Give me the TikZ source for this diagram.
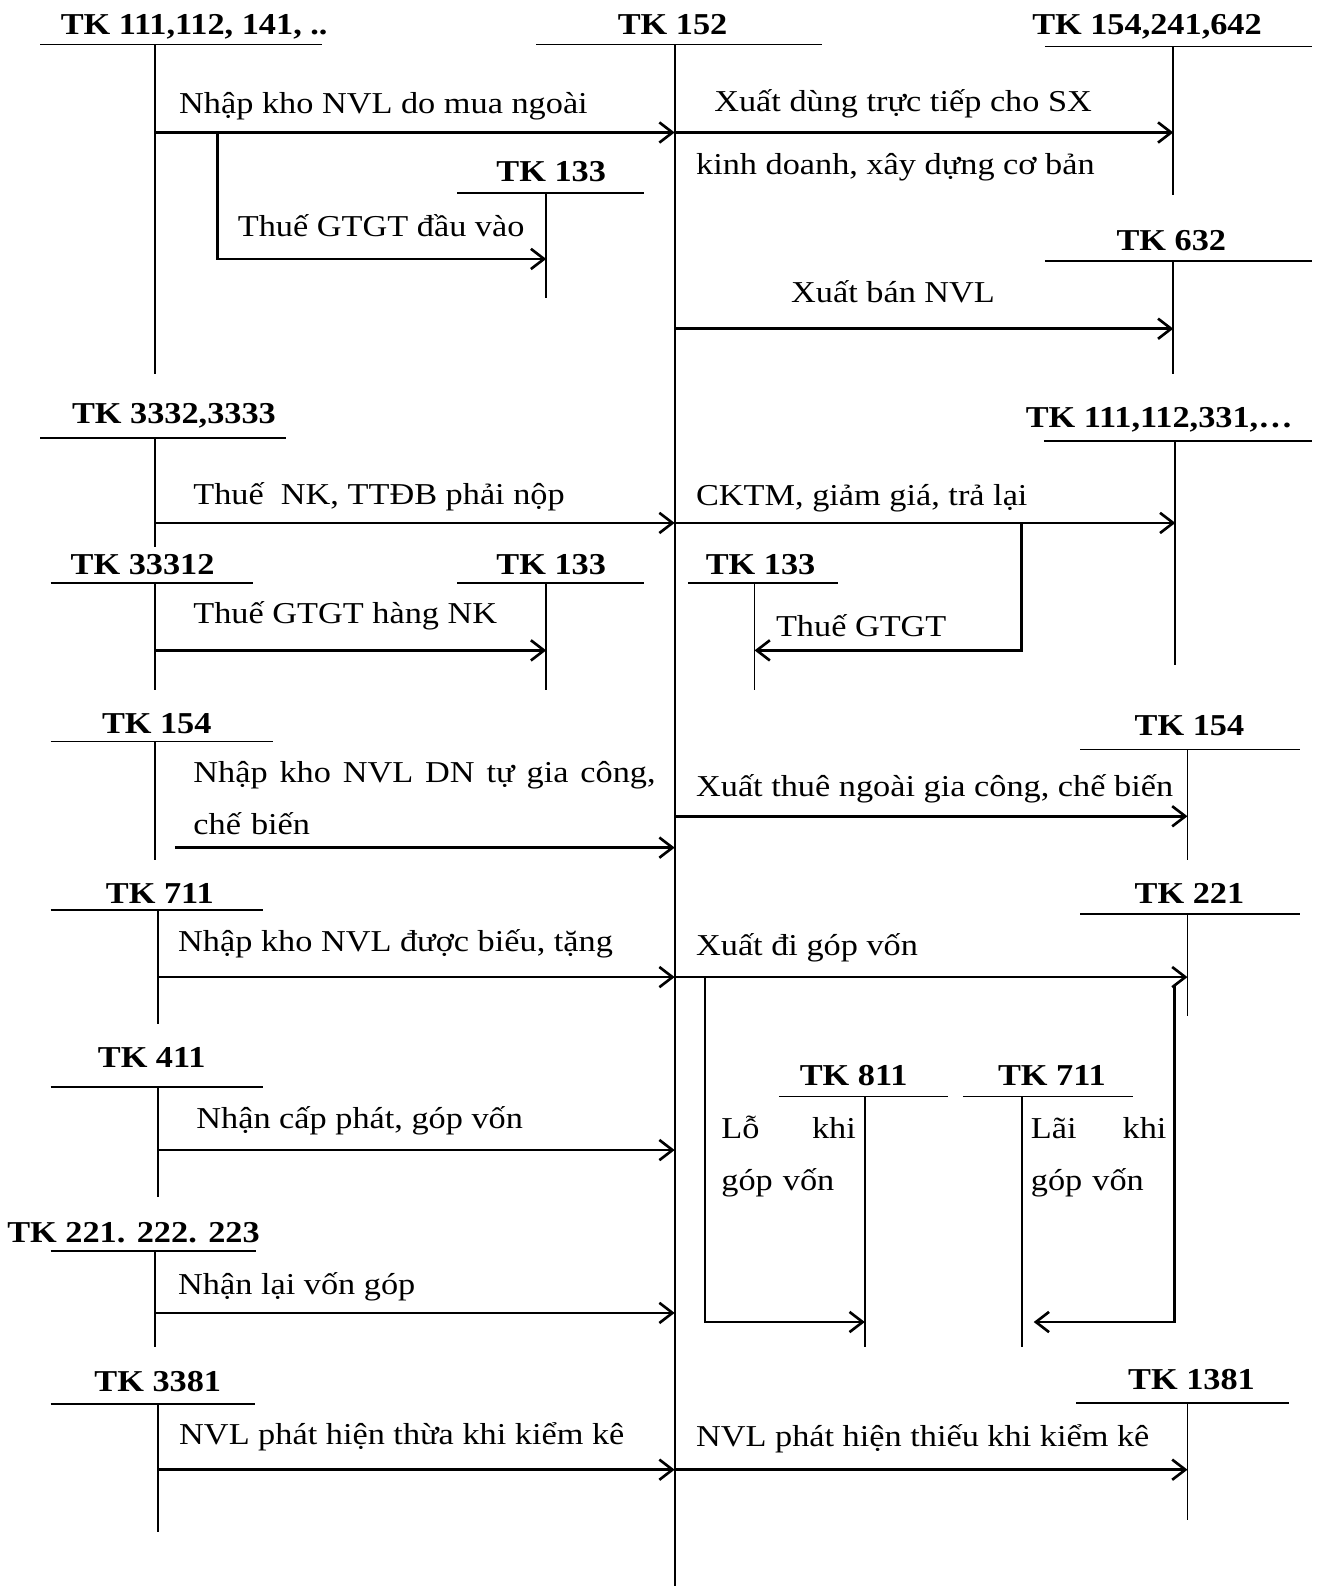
\documentclass[tikz,border=0pt]{standalone}
\usepackage{fontspec}
\setmainfont{Liberation Serif}[FakeStretch=1.13]
\usetikzlibrary{arrows.meta}

\begin{document}
\begin{tikzpicture}[x=1pt, y=-1pt,
    tk/.style = {font=\fontsize{30}{36}\selectfont\bfseries, inner sep=0pt, anchor=base},
    nd/.style = {font=\fontsize{30}{51}\selectfont, inner sep=0pt, anchor=base west, align=left},
    tline/.style = {line width=1.8pt},
    flow/.style = {line width=2.6pt, -{Straight Barb[length=13pt, width=20pt]}}]
    \useasboundingbox (0,0) rectangle (1302,1568);

    \node[tk] (k111a) at (192,34) {TK 111,112, 141, ..};
    \node[tk] (k152) at (665,34) {TK 152};
    \node[tk] (k154a) at (1134,34) {TK 154,241,642};
    \node[tk] (k133a) at (545,179) {TK 133};
    \node[tk] (k632) at (1158,248) {TK 632};
    \node[tk] (k3332) at (172,419) {TK 3332,3333};
    \node[tk] (k111b) at (1146,423) {TK 111,112,331,…};
    \node[tk] (k33312) at (141,568) {TK 33312};
    \node[tk] (k133c) at (545,568) {TK 133};
    \node[tk] (k133b) at (752,568) {TK 133};
    \node[tk] (k154b) at (155,725) {TK 154};
    \node[tk] (k154c) at (1176,727) {TK 154};
    \node[tk] (k711a) at (158,893) {TK 711};
    \node[tk] (k221a) at (1176,893) {TK 221};
    \node[tk] (k411) at (150,1055) {TK 411};
    \node[tk] (k811) at (844,1073) {TK 811};
    \node[tk] (k711b) at (1040,1073) {TK 711};
    \node[tk] (k221b) at (132,1228) {TK 221. 222. 223};
    \node[tk] (k3381) at (156,1376) {TK 3381};
    \node[tk] (k1381) at (1178,1374) {TK 1381};

    \draw[tline] (40,44) -- (318,44) (153,44) coordinate (v111a) -- (153,370);
    \draw[tline] (530,44) -- (813,44) (667,44) coordinate (v152) -- (667,1568);
    \draw[tline] (1033,46) -- (1297,46) (1160,46) coordinate (v154a) -- (1160,193);
    \draw[tline] (452,191) -- (637,191) (540,191) coordinate (v133a) -- (540,295);
    \draw[tline] (1033,258) -- (1297,258) (1160,258) coordinate (v632) -- (1160,370);
    \draw[tline] (40,433) -- (283,433) (153,433) coordinate (v3332) -- (153,541);
    \draw[tline] (1032,436) -- (1297,436) (1162,436) coordinate (v111b) -- (1162,657);
    \draw[tline] (50,576) -- (250,576) (153,576) coordinate (v33312) -- (153,682);
    \draw[tline] (452,576) -- (637,576) (540,576) coordinate (v133c) -- (540,682);
    \draw[tline] (680,576) -- (828,576) (746,576) coordinate (v133b) -- (746,682);
    \draw[tline] (50,733) -- (270,733) (153,733) coordinate (v154b) -- (153,850);
    \draw[tline] (1068,741) -- (1285,741) (1174,741) coordinate (v154c) -- (1174,850);
    \draw[tline] (50,900) -- (260,900) (156,900) coordinate (v711a) -- (156,1012);
    \draw[tline] (1068,904) -- (1285,904) (1174,904) coordinate (v221a) -- (1174,1004);
    \draw[tline] (50,1075) -- (260,1075) (156,1075) coordinate (v411) -- (156,1183);
    \draw[tline] (770,1084) -- (937,1084) (855,1084) coordinate (v811) -- (855,1332);
    \draw[tline] (952,1084) -- (1120,1084) (1010,1084) coordinate (v711b) -- (1010,1332);
    \draw[tline] (50,1237) -- (253,1237) (153,1237) coordinate (v221b) -- (153,1332);
    \draw[tline] (50,1388) -- (252,1388) (156,1388) coordinate (v3381) -- (156,1515);
    \draw[tline] (1064,1387) -- (1274,1387) (1174,1387) coordinate (v1381) -- (1174,1503);

    \coordinate (r1) at (0,131);
    \coordinate (r2) at (0,256);
    \coordinate (r3) at (0,325);
    \coordinate (r4) at (0,517);
    \coordinate (r5) at (0,643);
    \coordinate (r6) at (0,807);
    \coordinate (r7) at (0,838);
    \coordinate (r8) at (0,966);
    \coordinate (r9) at (0,975);
    \coordinate (r10) at (0,1137);
    \coordinate (r11) at (0,1298);
    \coordinate (r12) at (0,1307);
    \coordinate (r13) at (0,1453);
    \coordinate (b1) at (215,0);
    \coordinate (b2) at (1010,0);
    \coordinate (b3) at (697,0);
    \coordinate (b4) at (1161,0);
    \coordinate (s154) at (173,0);
    \coordinate (e711) at (1022,0);

    \draw[flow] (v111a |- r1) -- (v152 |- r1);
    \draw[flow] (v152 |- r1) -- (v154a |- r1);
    \draw[flow] (b1 |- r1) -- (b1 |- r2) -- (v133a |- r2);
    \draw[flow] (v152 |- r3) -- (v632 |- r3);
    \draw[flow] (v3332 |- r4) -- (v152 |- r4);
    \draw[flow] (v152 |- r4) -- (v111b |- r4);
    \draw[flow] (b2 |- r4) -- (b2 |- r5) -- (v133b |- r5);
    \draw[flow] (v33312 |- r5) -- (v133c |- r5);
    \draw[flow] (s154 |- r7) -- (v152 |- r7);
    \draw[flow] (v152 |- r6) -- (v154c |- r6);
    \draw[flow] (v711a |- r8) -- (v152 |- r8);
    \draw[flow] (v152 |- r8) -- (v221a |- r8);
    \draw[flow] (b3 |- r8) -- (b3 |- r12) -- (v811 |- r12);
    \draw[flow] (b4 |- r9) -- (b4 |- r12) -- (e711 |- r12);
    \draw[flow] (v411 |- r10) -- (v152 |- r10);
    \draw[flow] (v221b |- r11) -- (v152 |- r11);
    \draw[flow] (v3381 |- r13) -- (v152 |- r13);
    \draw[flow] (v152 |- r13) -- (v1381 |- r13);

    \node[nd] (n1) at (177,112) {Nhập kho NVL do mua ngoài};
    \node[nd] (n2) at (706,110) {Xuất dùng trực tiếp cho SX};
    \node[nd] (n3) at (688,173) {kinh doanh, xây dựng cơ bản};
    \node[nd] (n4) at (235,234) {Thuế GTGT đầu vào};
    \node[nd] (n5) at (782,299) {Xuất bán NVL};
    \node[nd] (n6) at (191,499) {Thuế~ NK, TTĐB phải nộp};
    \node[nd] (n7) at (688,500) {CKTM, giảm giá, trả lại};
    \node[nd] (n8) at (767,629) {Thuế GTGT};
    \node[nd] (n9) at (191,616) {Thuế GTGT hàng NK};
    \node[nd, text width=457pt] (n10) at (191,774) {Nhập \hfill kho \hfill NVL \hfill DN \hfill tự \hfill gia \hfill công,\\chế biến};
    \node[nd] (n11) at (688,787) {Xuất thuê ngoài gia công, chế biến};
    \node[nd] (n12) at (176,941) {Nhập kho NVL được biếu, tặng};
    \node[nd] (n13) at (688,945) {Xuất đi góp vốn};
    \node[nd, text width=133pt] (n14) at (713,1126) {Lỗ \hfill khi\\góp vốn};
    \node[nd, text width=134pt] (n15) at (1019,1126) {Lãi \hfill khi\\góp vốn};
    \node[nd] (n16) at (194,1116) {Nhận cấp phát, góp vốn};
    \node[nd] (n17) at (176,1280) {Nhận lại vốn góp};
    \node[nd] (n18) at (177,1428) {NVL phát hiện thừa khi kiểm kê};
    \node[nd] (n19) at (688,1430) {NVL phát hiện thiếu khi kiểm kê};

\end{tikzpicture}
\end{document}
